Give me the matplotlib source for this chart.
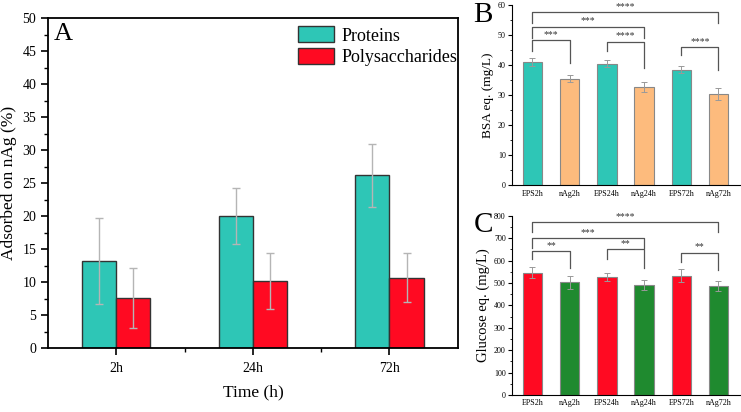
import matplotlib
matplotlib.use('Agg')
import matplotlib.pyplot as plt
from matplotlib.ticker import MultipleLocator, FixedLocator
import numpy as np

plt.rcParams['font.family'] = ['Liberation Serif', 'DejaVu Serif']

# panel A
times = ['2h', '24h', '72h']
proteins = [13.2, 20.0, 26.2]
proteins_err = [6.5, 4.25, 4.75]
polysacch = [7.6, 10.2, 10.7]
polysacch_err = [4.6, 4.2, 3.7]

# panels B and C
samples = ['EPS2h', 'nAg2h', 'EPS24h', 'nAg24h', 'EPS72h', 'nAg72h']
bsa = [41.0, 35.6, 40.6, 32.8, 38.6, 30.3]
bsa_err = [1.3, 1.3, 1.1, 1.7, 1.3, 2.0]
glucose = [545, 503, 526, 490, 532, 487]
glucose_err = [25, 28, 18, 23, 30, 22]

# significance brackets: (left bar, right bar, top, left leg end, right leg end, label)
bsa_sig = [(0, 5, 57.7, 54.0, 54.0, '****'),
           (0, 3, 52.9, 49.2, 49.2, '***'),
           (0, 1, 48.4, 44.9, 40.9, '***'),
           (2, 3, 47.9, 44.9, 39.0, '****'),
           (4, 5, 46.0, 43.4, 38.4, '****')]
glu_sig = [(0, 5, 773, 729, 729, '****'),
           (0, 3, 699, 657, 657, '***'),
           (0, 1, 643, 607, 568, '**'),
           (2, 3, 652, 607, 568, '**'),
           (4, 5, 635, 595, 558, '**')]

teal = '#2ec6b6'
red = '#ff0a22'
orange = '#fdbb7d'
green = '#1f8a2f'

fig = plt.figure(figsize=(7.41, 4.12), dpi=100)

# ---- A ----
axA = fig.add_axes([0.0648, 0.155, 0.553, 0.801])
x = np.arange(1, len(times) + 1)
w = 0.25
axA.bar(x - w / 2, proteins, w, color=teal, edgecolor='#333333', linewidth=1, label='Proteins')
axA.bar(x + w / 2, polysacch, w, color=red, edgecolor='#333333', linewidth=1, label='Polysaccharides')
axA.errorbar(x - w / 2, proteins, yerr=proteins_err, fmt='none', ecolor='#b5b5b5',
             elinewidth=1, capsize=3, capthick=1)
axA.errorbar(x + w / 2, polysacch, yerr=polysacch_err, fmt='none', ecolor='#b5b5b5',
             elinewidth=1, capsize=3, capthick=1)
axA.set_xlim(0.5, 3.5)
axA.set_ylim(0, 50)
axA.set_xticks(x)
axA.set_xticklabels(times)
axA.xaxis.set_minor_locator(FixedLocator([1.5, 2.5]))
axA.yaxis.set_major_locator(MultipleLocator(5))
axA.yaxis.set_minor_locator(MultipleLocator(2.5))
axA.tick_params(which='major', direction='out', length=5, width=1.2, labelsize=10)
axA.tick_params(which='minor', direction='out', length=3, width=1)
axA.tick_params(axis='x', pad=5)
for s in axA.spines.values():
    s.set_linewidth(1.3)
axA.set_xlabel('Time (h)', fontsize=12.5, labelpad=7)
axA.set_ylabel('Adsorbed on nAg (%)', fontsize=12.5, labelpad=4)
axA.legend(loc='upper right', bbox_to_anchor=(1.018, 1.0), frameon=False, fontsize=13,
           handlelength=2.0, handleheight=1.0, borderaxespad=0.05, labelspacing=0.2,
           handletextpad=0.4)
axA.text(0.015, 0.985, 'A', transform=axA.transAxes, fontsize=19, va='top', ha='left')


def small_bars(ax, values, errs, colors, ylim, step, sig, lab, ylabel):
    xs = np.arange(len(samples))
    ax.bar(xs, values, 0.52, color=colors, edgecolor='#888888', linewidth=0.8)
    ax.errorbar(xs, values, yerr=errs, fmt='none', ecolor='#999999', elinewidth=0.7,
                capsize=2, capthick=0.7)
    ax.set_xlim(-0.55, 5.58)
    ax.set_ylim(*ylim)
    ax.set_xticks(xs)
    ax.set_xticklabels(samples)
    ax.yaxis.set_major_locator(MultipleLocator(step))
    ax.yaxis.set_minor_locator(MultipleLocator(step / 2))
    ax.tick_params(axis='y', which='major', direction='out', length=3, width=0.8, labelsize=5.8, pad=1.5)
    ax.tick_params(axis='y', which='minor', direction='out', length=1.5, width=0.6)
    ax.tick_params(axis='x', length=0, labelsize=5.8, pad=3)
    ax.spines['top'].set_visible(False)
    ax.spines['right'].set_visible(False)
    for s in ['left', 'bottom']:
        ax.spines[s].set_linewidth(0.8)
    ax.set_ylabel(ylabel, labelpad=3)
    span = ylim[1] - ylim[0]
    for i, j, top, lb, rb, txt in sig:
        ax.plot([i, i, j, j], [lb, top, top, rb], color='#555555', lw=0.9, clip_on=False)
        ax.text((i + j) / 2, top + span * 0.006, txt, ha='center', va='bottom',
                fontsize=7, color='#333333')
    ax.text(-0.17, 1.02, lab, transform=ax.transAxes, fontsize=21, va='top', ha='left')


axB = fig.add_axes([0.691, 0.550, 0.3077, 0.437])
small_bars(axB, bsa, bsa_err, [teal, orange] * 3, (0, 60), 10, bsa_sig, 'B', 'BSA eq. (mg/L)')
axB.yaxis.label.set_size(9.5)

axC = fig.add_axes([0.691, 0.0413, 0.3077, 0.4352])
small_bars(axC, glucose, glucose_err, [red, green] * 3, (0, 800), 100, glu_sig, 'C',
           'Glucose eq. (mg/L)')
axC.yaxis.label.set_size(10.5)

fig.savefig('out.png', dpi=100)
